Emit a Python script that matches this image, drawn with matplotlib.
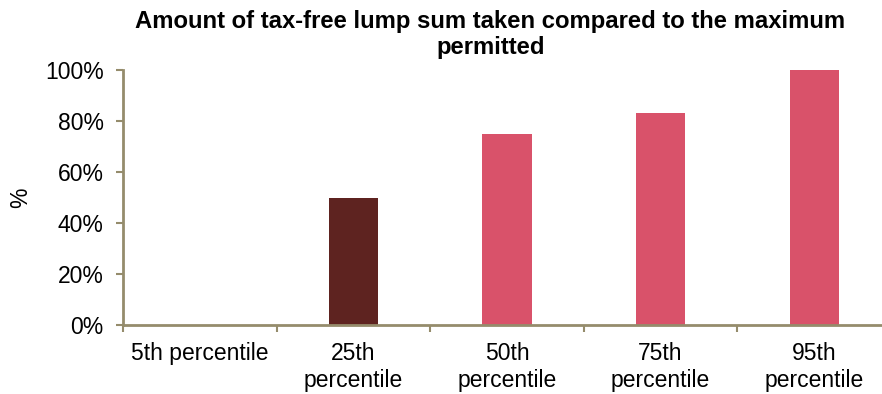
import numpy as np
import matplotlib.pyplot as plt
from matplotlib.ticker import FuncFormatter, FixedLocator

plt.rcParams['font.family'] = ['Liberation Sans', 'DejaVu Sans']

categories = ['5th percentile', '25th\npercentile', '50th\npercentile', '75th\npercentile', '95th\npercentile']
values = [0, 50, 75, 83, 100]
colors = ['#5E2320', '#5E2320', '#D9526A', '#D9526A', '#D9526A']

axis_color = '#958C6C'

fig = plt.figure(figsize=(8.82, 3.94), dpi=100)
ax = fig.add_axes([123 / 882, 69 / 394, 768 / 882, 255 / 394])

x = np.arange(len(categories))
ax.bar(x, values, width=0.32, color=colors, zorder=2)

ax.set_xlim(-0.5, len(categories) - 0.5)
ax.set_ylim(0, 100)
ax.set_yticks(np.arange(0, 101, 20))
ax.yaxis.set_major_formatter(FuncFormatter(lambda v, p: f'{v:.0f}%'))

ax.set_xticks(x)
ax.set_xticklabels(categories, linespacing=1.25)
ax.xaxis.set_minor_locator(FixedLocator(np.arange(-0.5, len(categories), 1.0)))
ax.tick_params(axis='x', which='major', length=0, pad=12, labelsize=16.5)
ax.tick_params(axis='x', which='minor', length=5, width=1.5, color=axis_color, direction='out')
ax.tick_params(axis='y', length=5, width=1.5, color=axis_color, direction='out', labelsize=16.5, pad=9)

for side in ['top', 'right']:
    ax.spines[side].set_visible(False)
for side in ['left', 'bottom']:
    ax.spines[side].set_color(axis_color)
    ax.spines[side].set_linewidth(2)

ax.set_ylabel('%', fontsize=16.5, labelpad=9)
fig.text(0.556, 0.975, 'Amount of tax-free lump sum taken compared to the maximum\npermitted',
         ha='center', va='top', fontsize=17.2, fontweight='bold', linespacing=1.15)

fig.savefig('out.png', dpi=100)
